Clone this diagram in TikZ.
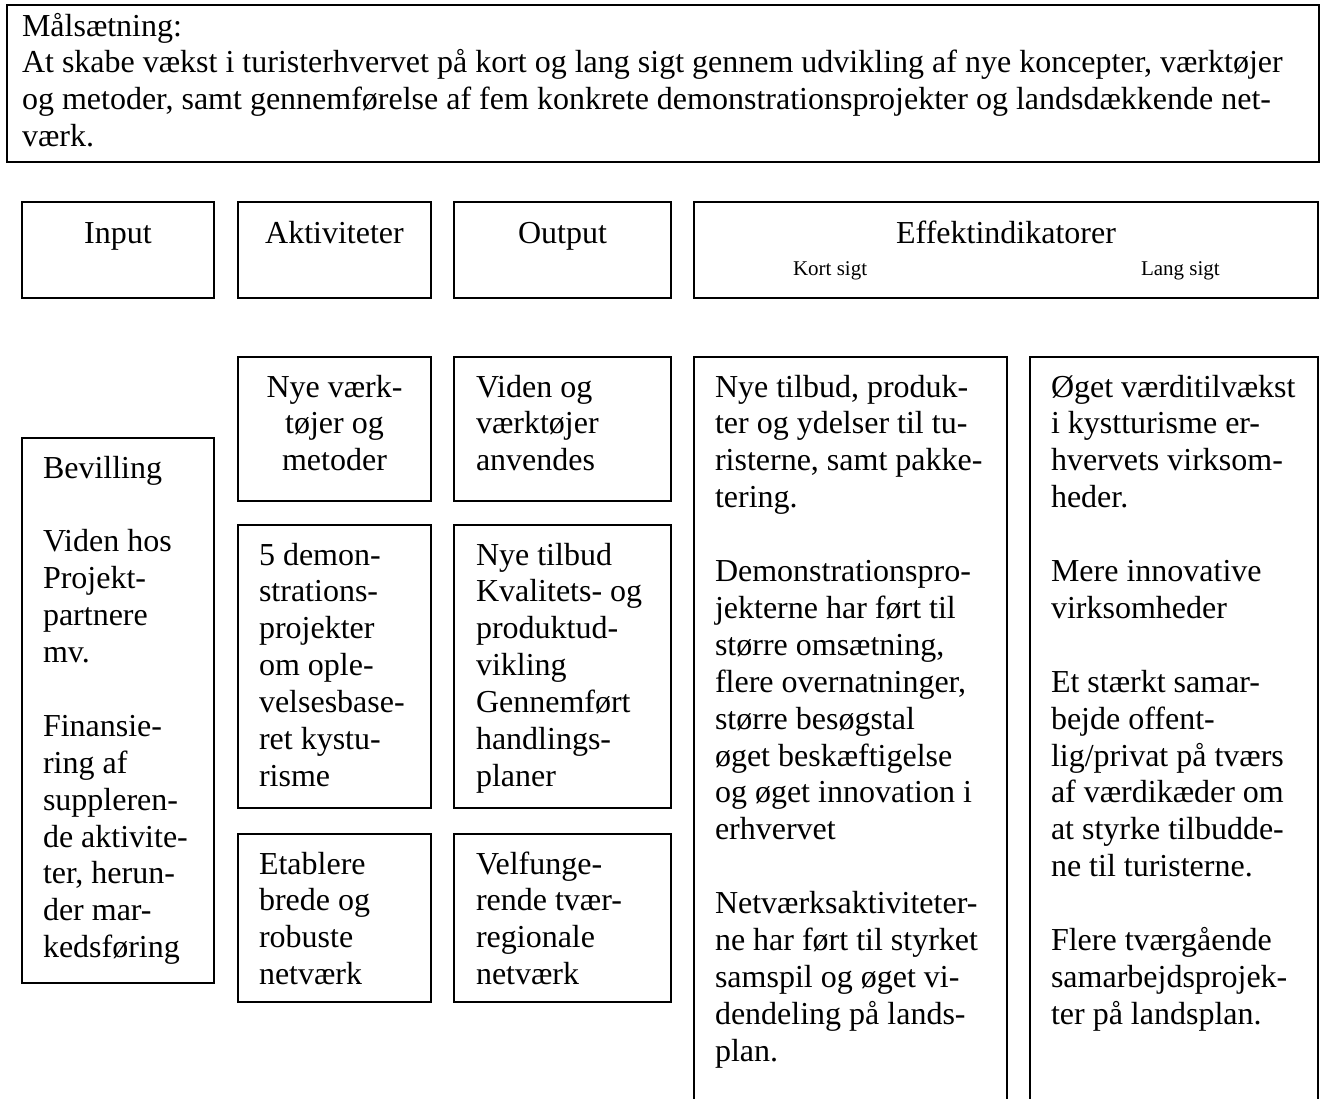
\documentclass[tikz,border=0pt]{standalone}
\usepackage{fontspec}
\setmainfont{Liberation Serif}
\usetikzlibrary{calc}
\newcommand{\fs}{\rule{0pt}{30pt}}
\begin{document}
\begin{tikzpicture}[x=1pt,y=-1pt,
  box/.style={draw, line width=1.9pt, inner sep=0pt, outer sep=0pt, anchor=north west},
  txt/.style={inner sep=0pt, outer sep=0pt, align=left, anchor=north west, font=\fontsize{32}{36.9}\selectfont},
  ctxt/.style={txt, align=center, anchor=north},
  small/.style={inner sep=0pt, outer sep=0pt, anchor=base west, font=\fontsize{21}{25}\selectfont}]
\useasboundingbox (0,0) rectangle (1321,1098);
\fill[white] (0,0) rectangle (1321,1098);

% goal box
\node[box, minimum width=1312pt, minimum height=157pt] (goal) at (7,5) {};
\node[txt] (goaltxt) at ($(goal.north west)+(15,1)$) {\fs Målsætning:\\
At skabe vækst i turisterhvervet på kort og lang sigt gennem udvikling af nye koncepter, værktøjer\\
og metoder, samt gennemførelse af fem konkrete demonstrationsprojekter og landsdækkende net-\\
værk.};

% header boxes
\node[box, minimum width=192pt, minimum height=96pt] (hI) at (22,202) {};
\node[box, minimum width=193pt, minimum height=96pt] (hA) at (238,202) {};
\node[box, minimum width=217pt, minimum height=96pt] (hO) at (454,202) {};
\node[box, minimum width=624pt, minimum height=96pt] (hE) at (694,202) {};
\node[ctxt] (hItxt) at ($(hI.north)+(0,11)$) {\fs Input};
\node[ctxt] (hAtxt) at ($(hA.north)+(0,11)$) {\fs Aktiviteter};
\node[ctxt] (hOtxt) at ($(hO.north)+(0,11)$) {\fs Output};
\node[ctxt] (hEtxt) at ($(hE.north)+(0,11)$) {\fs Effektindikatorer};
\node[small] (kort) at ($(hE.north west)+(99,73)$) {Kort sigt};
\node[small] (lang) at ($(hE.north west)+(447,73)$) {Lang sigt};

% input column
\node[box, minimum width=192pt, minimum height=545pt] (bI) at (22,438) {};
\node[txt] (tI) at ($(bI.north west)+(21,10)$) {\fs Bevilling\\[36.9pt]
Viden hos\\ Projekt-\\ partnere\\ mv.\\[36.9pt]
Finansie-\\ ring af\\ suppleren-\\ de aktivite-\\ ter, herun-\\ der mar-\\ kedsføring};

% activities column
\node[box, minimum width=193pt, minimum height=144pt] (bA1) at (238,357) {};
\node[box, minimum width=193pt, minimum height=283pt] (bA2) at (238,525) {};
\node[box, minimum width=193pt, minimum height=168pt] (bA3) at (238,834) {};
\node[ctxt] (tA1) at ($(bA1.north)+(0,10)$) {\fs Nye værk-\\ tøjer og\\ metoder};
\node[txt] (tA2) at ($(bA2.north west)+(21,10)$) {\fs 5 demon-\\ strations-\\ projekter\\ om ople-\\ velsesbase-\\ ret kystu-\\ risme};
\node[txt] (tA3) at ($(bA3.north west)+(21,10)$) {\fs Etablere\\ brede og\\ robuste\\ netværk};

% output column
\node[box, minimum width=217pt, minimum height=144pt] (bO1) at (454,357) {};
\node[box, minimum width=217pt, minimum height=283pt] (bO2) at (454,525) {};
\node[box, minimum width=217pt, minimum height=168pt] (bO3) at (454,834) {};
\node[txt] (tO1) at ($(bO1.north west)+(22,10)$) {\fs Viden og\\ værktøjer\\ anvendes};
\node[txt] (tO2) at ($(bO2.north west)+(22,10)$) {\fs Nye tilbud\\ Kvalitets- og\\ produktud-\\ vikling\\ Gennemført\\ handlings-\\ planer};
\node[txt] (tO3) at ($(bO3.north west)+(22,10)$) {\fs Velfunge-\\ rende tvær-\\ regionale\\ netværk};

% effect columns (run past the bottom edge)
\node[box, minimum width=313pt, minimum height=780pt] (bE1) at (694,357) {};
\node[box, minimum width=288pt, minimum height=780pt] (bE2) at (1030,357) {};
\node[txt] (tE1) at ($(bE1.north west)+(21,10)$) {\fs Nye tilbud, produk-\\ ter og ydelser til tu-\\ risterne, samt pakke-\\ tering.\\[36.9pt]
Demonstrationspro-\\ jekterne har ført til\\ større omsætning,\\ flere overnatninger,\\ større besøgstal\\ øget beskæftigelse\\ og øget innovation i\\ erhvervet\\[36.9pt]
Netværksaktiviteter-\\ ne har ført til styrket\\ samspil og øget vi-\\ dendeling på lands-\\ plan.};
\node[txt] (tE2) at ($(bE2.north west)+(21,10)$) {\fs Øget værditilvækst\\ i kystturisme er-\\ hvervets virksom-\\ heder.\\[36.9pt]
Mere innovative\\ virksomheder\\[36.9pt]
Et stærkt samar-\\ bejde offent-\\ lig/privat på tværs\\ af værdikæder om\\ at styrke tilbudde-\\ ne til turisterne.\\[36.9pt]
Flere tværgående\\ samarbejdsprojek-\\ ter på landsplan.};
\end{tikzpicture}
\end{document}
